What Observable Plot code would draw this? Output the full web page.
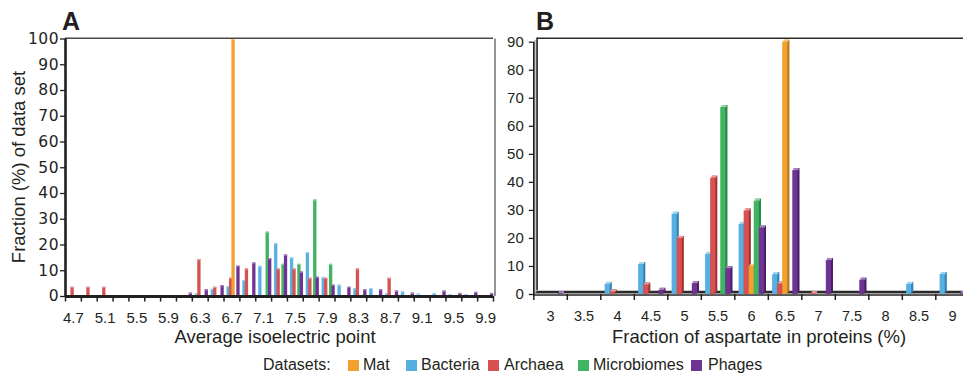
<!DOCTYPE html>
<html><head><meta charset="utf-8">
<script src="https://cdn.jsdelivr.net/npm/d3@7"></script>
<script src="https://cdn.jsdelivr.net/npm/@observablehq/plot@0.6"></script>
<style>
html,body{margin:0;padding:0;background:#fff;overflow:hidden;}
#root{position:relative;width:963px;height:373px;overflow:hidden;font-family:"Liberation Sans",Arial,Helvetica,sans-serif;color:#231f20;}
.abs{position:absolute;white-space:nowrap;}
#root svg{position:absolute;top:0;max-width:none;}
#plotA [aria-label="y-axis tick label"]{font-family:"DejaVu Sans",sans-serif;font-size:15.5px;letter-spacing:0.5px;}
.sw{position:absolute;width:10.5px;height:10.5px;top:360px;}
.lt{position:absolute;top:357px;font-size:16px;line-height:16px;white-space:nowrap;}
</style></head><body><div id="root"></div>
<script>
// ---------- data ----------
const seriesNames = ["Mat", "Bacteria", "Archaea", "Microbiomes", "Phages"];
const drawOrder = ["Bacteria", "Archaea", "Mat", "Microbiomes", "Phages"];

// Panel A: average isoelectric point
const categoriesA = ["4.7","4.9","5.1","5.3","5.5","5.7","5.9","6.1","6.3","6.5","6.7","6.9","7.1","7.3","7.5","7.7","7.9","8.1","8.3","8.5","8.7","8.9","9.1","9.3","9.5","9.7","9.9"];
const tickLabelsA = ["4.7","5.1","5.5","5.9","6.3","6.7","7.1","7.5","7.9","8.3","8.7","9.1","9.5","9.9"];
const yTicksA = [0,10,20,30,40,50,60,70,80,90,100];
const matA         = [0,0,0,0,0,0,0,0,0,0,100,0,0,0,0,0,0,0,0,0,0,0,0,0,0,0,0];
const bacteriaA    = [0,0,0,0,0,0,0.3,0,1.0,2.8,3.8,6.2,11.7,20.6,15.0,17.1,7.4,4.4,3.1,3.1,1.0,1.8,0.9,1.2,0.7,0.7,0.3];
const archaeaA     = [3.6,3.6,3.6,0,0,0,0,0,14.3,3.6,7.1,10.7,0,10.7,10.7,7.1,7.1,0,10.7,0,7.1,0,0,0,0,0,0];
const microbiomesA = [0,0,0,0,0,0,0,0,0,0,0,0,25,12.5,12.5,37.5,12.5,0,0,0,0,0,0,0,0,0,0];
const phagesA      = [0,0.3,0,0,0,0,0.3,1.3,2.6,4.2,11.8,13.0,14.7,16.1,9.5,7.5,4.4,3.6,2.6,2.6,2.1,1.3,0.4,2.1,1.2,1.6,1.2];

// Panel B: fraction of aspartate in proteins (%)
const categoriesB = ["3","3.5","4","4.5","5","5.5","6","6.5","7","7.5","8","8.5","9"];
const tickLabelsB = categoriesB;
const yTicksB = [0,10,20,30,40,50,60,70,80,90];
const matB         = [0,0,0,0,0,0,10,90,0,0,0,0,0];
const bacteriaB    = [0,0,3.6,10.7,28.6,14.3,25.0,7.1,0,0,0,3.6,7.1];
const archaeaB     = [0,0,0.9,3.4,20.0,41.5,29.8,3.7,0.3,0,0,0,0];
const microbiomesB = [0,0,0,0,0,66.7,33.3,0,0,0,0,0,0];
const phagesB      = [0.3,0,0,1.5,3.9,9.2,23.7,44.2,12.1,5.1,0,0,0.3];

// ---------- styles ----------
const FONT = '"Liberation Sans", Arial, Helvetica, sans-serif';
const INK = "#231f20";
const colors = {
  Mat:         {front:"#F2A12E", side:"#B8741C", top:"#F8C77F"},
  Bacteria:    {front:"#56B1E2", side:"#2F7FB0", top:"#A3D5F1"},
  Archaea:     {front:"#D75150", side:"#9C3333", top:"#EC9C9B"},
  Microbiomes: {front:"#3FB462", side:"#2A8244", top:"#93D6A6"},
  Phages:      {front:"#6F3394", side:"#4A1F66", top:"#A886C0"}
};

function longTable(categories, arrays) {
  const rows = [];
  seriesNames.forEach(s => arrays[s].forEach((v, i) => { if (v > 0) rows.push({cat: categories[i], series: s, value: v}); }));
  return rows;
}
const rowsA = longTable(categoriesA, {Mat: matA, Bacteria: bacteriaA, Archaea: archaeaA, Microbiomes: microbiomesA, Phages: phagesA});
const rowsB = longTable(categoriesB, {Mat: matB, Bacteria: bacteriaB, Archaea: archaeaB, Microbiomes: microbiomesB, Phages: phagesB});

const root = document.getElementById("root");

// ---------- Panel A ----------
const AW = 500, AML = 65, AMR = 7;
const bwA = (AW - AML - AMR) / categoriesA.length;
const barsA = drawOrder.flatMap((s, i) => {
  const data = rowsA.filter(d => d.series === s);
  const l = 3 + i * 2.45, r = bwA - l - 3.3;
  return [
    Plot.barY(data, {x: "cat", y: "value", fill: colors[s].front, insetLeft: l, insetRight: r}),
    Plot.barY(data, {x: "cat", y1: "value", y2: "value", fill: colors[s].top, insetLeft: l, insetRight: r, insetBottom: -1.2})
  ];
});
const plotA = Plot.plot({
  width: AW, height: 340,
  marginLeft: AML, marginRight: AMR, marginTop: 38.5, marginBottom: 44,
  x: {type: "band", domain: categoriesA, paddingInner: 0, paddingOuter: 0, round: false, axis: null},
  y: {domain: [0, 100], axis: null},
  style: {fontFamily: FONT, fontSize: "15px", color: INK, background: "transparent", overflow: "visible"},
  marks: [
    ...barsA,
    Plot.ruleY([100], {stroke: "#4a4a4a", strokeWidth: 1.4, dy: -0.8}),
    Plot.ruleX([categoriesA[categoriesA.length - 1]], {dx: bwA / 2 + 1.5, stroke: "#7a7a7a", strokeWidth: 1.6, y1: 0, y2: 100}),
    Plot.ruleY([0], {stroke: INK, strokeWidth: 3.2}),
    Plot.ruleX([categoriesA[0]], {dx: -bwA / 2, stroke: INK, strokeWidth: 2.6, y1: 0, y2: 100}),
    Plot.axisY({ticks: yTicksA, tickSize: 5, tickPadding: 1.5, strokeWidth: 1.3, label: null}),
    Plot.axisX({ticks: categoriesA, tickSize: 5.5, tickFormat: () => "", dx: -bwA / 2, strokeWidth: 1.5, label: null}),
    Plot.axisX({ticks: [categoriesA[categoriesA.length - 1]], tickSize: 5.5, tickFormat: () => "", dx: bwA / 2, strokeWidth: 1.5, label: null}),
    Plot.axisX({ticks: tickLabelsA, tickSize: 0, tickPadding: 16, label: null})
  ]
});
plotA.id = "plotA";
plotA.style.left = "0px";
root.appendChild(plotA);

// ---------- Panel B ----------
const BW = 510, BML = 63.3, BMR = 11.2, BLEFT = 470;
const bwB = (BW - BML - BMR) / categoriesB.length;
const barsB = drawOrder.flatMap((s, i) => {
  const data = rowsB.filter(d => d.series === s);
  const l = 4.3 + i * 5.05, r = bwB - l - 5.2;
  return [
    Plot.barY(data, {x: "cat", y: "value", fill: colors[s].side, insetLeft: l, insetRight: r, dx: 2, dy: -2}),
    Plot.barY(data, {x: "cat", y: "value", fill: colors[s].front, insetLeft: l, insetRight: r}),
    Plot.barY(data, {x: "cat", y1: "value", y2: "value", fill: colors[s].top, insetLeft: l, insetRight: r, insetTop: -2, dx: 1})
  ];
});
const plotB = Plot.plot({
  width: BW, height: 340,
  marginLeft: BML, marginRight: BMR, marginTop: 41.7, marginBottom: 46,
  x: {type: "band", domain: categoriesB, paddingInner: 0, paddingOuter: 0, round: false, axis: null},
  y: {domain: [0, 90], axis: null},
  style: {fontFamily: FONT, fontSize: "15px", color: INK, background: "transparent", overflow: "visible"},
  marks: [
    // back wall edges
    Plot.ruleX([categoriesB[0]], {dx: -bwB / 2 + 1.8, stroke: "#c8c8c8", strokeWidth: 3.4, y1: 0, y2: 90, dy: -2}),
    Plot.ruleX([categoriesB[0]], {dx: -bwB / 2 + 3.3, stroke: "#2b2b2b", strokeWidth: 1.6, y1: 0, y2: 90, dy: -4}),
    Plot.ruleY([90], {stroke: "#2b2b2b", strokeWidth: 1.4, dy: -4, dx: 3.3}),
    // floor
    Plot.ruleY([0], {stroke: "#a0a0a0", strokeWidth: 3.5, dy: -1.2}),
    Plot.ruleY([0], {stroke: "#2b2b2b", strokeWidth: 2.4, dy: -2.6, dx: 3}),
    ...barsB,
    Plot.ruleY([0], {stroke: INK, strokeWidth: 1.3, dy: 0.6}),
    Plot.ruleX([categoriesB[0]], {dx: -bwB / 2, stroke: INK, strokeWidth: 1.6, y1: 0, y2: 90}),
    Plot.axisY({ticks: yTicksB, tickSize: 4.5, tickPadding: 5.5, strokeWidth: 1.3, label: null}),
    Plot.axisX({ticks: categoriesB, tickSize: 6, tickFormat: () => "", dx: -bwB / 2, strokeWidth: 1.5, label: null}),
    Plot.axisX({ticks: tickLabelsB, tickSize: 0, tickPadding: 16, fontSize: 14.5, label: null})
  ]
});
plotB.id = "plotB";
plotB.style.left = BLEFT + "px";
root.appendChild(plotB);

// ---------- HTML text ----------
function addText(txt, css) {
  const d = document.createElement("div");
  d.className = "abs";
  d.textContent = txt;
  Object.assign(d.style, css);
  root.appendChild(d);
  return d;
}
addText("A", {left: "62px", top: "8.5px", fontSize: "25px", lineHeight: "25px", fontWeight: "bold"});
addText("B", {left: "536px", top: "9px", fontSize: "25px", lineHeight: "25px", fontWeight: "bold"});
addText("Fraction (%) of data set", {left: "19.3px", top: "167px", fontSize: "18.5px", lineHeight: "18.5px", transform: "translate(-50%,-50%) rotate(-90deg)"});
addText("Average isoelectric point", {left: "275px", top: "328px", fontSize: "18.5px", lineHeight: "18.5px", transform: "translateX(-50%)"});
addText("Fraction of aspartate in proteins (%)", {left: "759px", top: "327.5px", fontSize: "18.5px", lineHeight: "18.5px", transform: "translateX(-50%)"});

// legend
const legendTitle = "Datasets:";
const legendSwatchX = [348, 406, 488, 578, 691];
const legendTextX = [363, 421, 504, 593, 708];
const lt = document.createElement("div"); lt.className = "lt"; lt.style.left = "263px"; lt.textContent = legendTitle; root.appendChild(lt);
seriesNames.forEach((s, i) => {
  const sw = document.createElement("div"); sw.className = "sw"; sw.style.left = legendSwatchX[i] + "px"; sw.style.background = colors[s].front; root.appendChild(sw);
  const t = document.createElement("div"); t.className = "lt"; t.style.left = legendTextX[i] + "px"; t.textContent = s; root.appendChild(t);
});
</script></body></html>
